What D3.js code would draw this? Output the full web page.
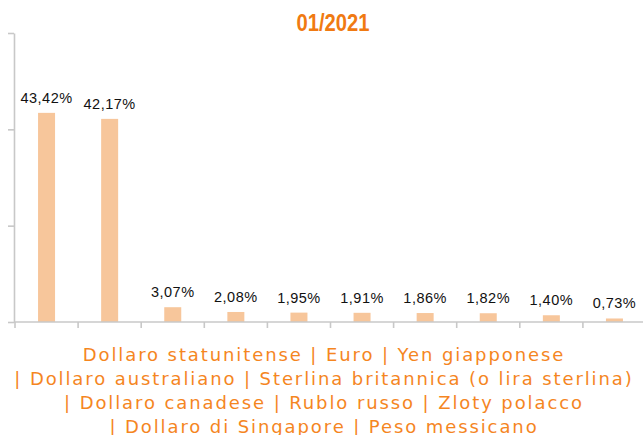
<!DOCTYPE html>
<html>
  <head>
    <meta charset="utf-8">
    <title>01/2021</title>
    <style>
      body { margin: 0; background: #fff; }
      .axis path, .axis line { stroke: #c8c8c8; stroke-width: 1.6; }
    </style>
  </head>
  <body>
    <svg id="chart" width="643" height="435"></svg>
    <script src="https://d3js.org/d3.v7.min.js"></script>
    <script>
      title = '01/2021'
      categories = ['Dollaro statunitense', 'Euro', 'Yen giapponese', 'Dollaro australiano',
        'Sterlina britannica (o lira sterlina)', 'Dollaro canadese', 'Rublo russo',
        'Zloty polacco', 'Dollaro di Singapore', 'Peso messicano']
      values = [43.42, 42.17, 3.07, 2.08, 1.95, 1.91, 1.86, 1.82, 1.40, 0.73]
      yTicks = [0, 20, 40, 60]
      // the category names are shown as one wrapped caption under the axis
      captionLines = [
        'Dollaro statunitense | Euro | Yen giapponese',
        '| Dollaro australiano | Sterlina britannica (o lira sterlina)',
        '| Dollaro canadese | Rublo russo | Zloty polacco',
        '| Dollaro di Singapore | Peso messicano'
      ]

      width = 643
      height = 435
      margin = {top: 33, left: 15, bottom: 113}
      bottomY = height - margin.bottom

      xScale = d3.scaleBand()
        .domain(categories)
        .range([margin.left, margin.left + 63.1 * categories.length])
      yScale = d3.scaleLinear()
        .domain([0, 60])
        .range([bottomY, margin.top])

      barW = 17
      fmt = v => d3.format('.2f')(v).replace('.', ',') + '%'

      const svg = d3.select('#chart')

      svg.append('text')
        .attr('x', 333)
        .attr('y', 31)
        .attr('text-anchor', 'middle')
        .attr('textLength', 73)
        .attr('lengthAdjust', 'spacingAndGlyphs')
        .style('font-family', '"Liberation Sans", Arial, sans-serif')
        .style('font-weight', 'bold')
        .style('font-size', '23px')
        .style('fill', '#f07a12')
        .text(title)

      // bars
      svg.append('g')
        .selectAll('rect')
        .data(values)
        .join('rect')
          .attr('x', (d, i) => xScale(categories[i]) + xScale.bandwidth() / 2 - barW / 2)
          .attr('y', d => yScale(d))
          .attr('width', barW)
          .attr('height', d => yScale(0) - yScale(d))
          .style('fill', '#f7c69b')

      // value labels
      svg.append('g')
        .selectAll('text')
        .data(values)
        .join('text')
          .attr('x', (d, i) => xScale(categories[i]) + xScale.bandwidth() / 2)
          .attr('y', d => yScale(d) - 10)
          .attr('text-anchor', 'middle')
          .style('font-family', '"Liberation Sans", Arial, sans-serif')
          .style('font-size', '14.5px')
          .style('letter-spacing', '0.5px')
          .style('fill', '#111')
          .text(fmt)

      // x axis, ticks on the band edges
      xAxis = svg.append('g')
        .attr('class', 'axis')
        .attr('transform', `translate(0,${bottomY})`)
        .call(d3.axisBottom(xScale).tickSize(6).tickSizeOuter(0).tickFormat(''))
      xAxis.selectAll('.tick').attr('transform', d => `translate(${xScale(d)},0)`)
      xAxis.select('.domain').attr('d', `M${margin.left - 1},0H${width}`)

      svg.append('g')
        .attr('class', 'axis')
        .attr('transform', `translate(${margin.left - 1},0)`)
        .call(d3.axisLeft(yScale).tickValues(yTicks).tickSize(6).tickSizeOuter(0).tickFormat(''))

      // caption
      svg.append('g')
        .selectAll('text')
        .data(captionLines)
        .join('text')
          .attr('x', 324)
          .attr('y', (d, i) => bottomY + 39 + i * 24)
          .attr('text-anchor', 'middle')
          .style('font-family', '"DejaVu Sans", Verdana, sans-serif')
          .style('font-size', '18px')
          .style('letter-spacing', '1.9px')
          .style('fill', '#f5861f')
          .text(d => d)
    </script>
  </body>
</html>
